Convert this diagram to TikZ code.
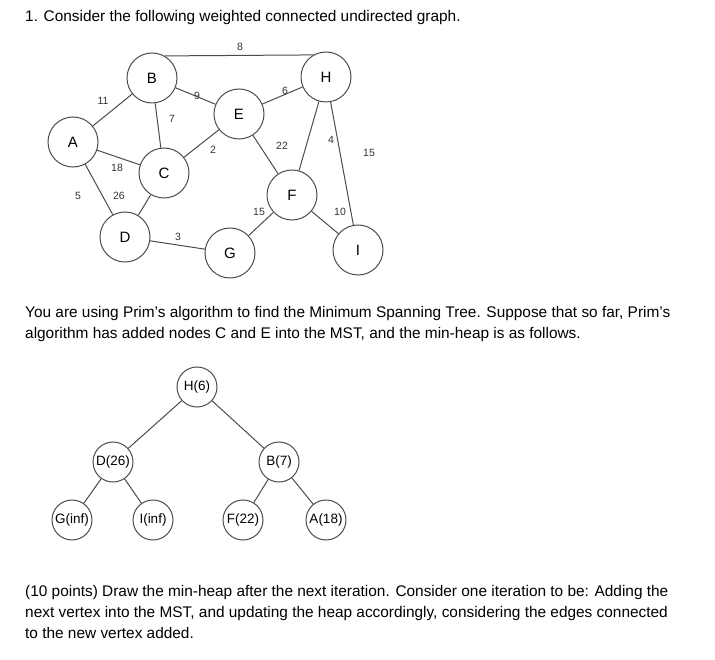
\documentclass[tikz,border=0pt]{standalone}
\usepackage{fontspec}
\setmainfont{Liberation Sans}
\begin{document}
\begin{tikzpicture}[x=1pt,y=-1pt,
  v/.style={circle,draw=black!70,line width=1pt,minimum size=50pt,inner sep=0pt,font=\fontsize{15}{15}\selectfont},
  h/.style={circle,draw=black!70,line width=1pt,minimum size=40pt,inner sep=0pt,font=\fontsize{13.5}{13.5}\selectfont},
  e/.style={draw=black!70,line width=1pt},
  w/.style={font=\fontsize{10.5}{10.5}\selectfont,text=black!80},
  t/.style={anchor=west,font=\fontsize{15.4}{21}\selectfont,align=left,inner sep=0pt}]
\useasboundingbox (0,0) rectangle (715,660);
\node[v] (B) at (152,78) {B};
\node[v] (H) at (326,77) {H};
\node[v] (E) at (239,114) {E};
\node[v] (A) at (73,142) {A};
\node[v] (C) at (164,173) {C};
\node[v] (F) at (292,195) {F};
\node[v] (D) at (125,237) {D};
\node[v] (G) at (230,253) {G};
\node[v] (I) at (358,250) {I};
\draw[e] (B.60) -- (H.120);
\draw[e] (A) -- (B); \draw[e] (B) -- (E); \draw[e] (B) -- (C);
\draw[e] (E) -- (H); \draw[e] (C) -- (E); \draw[e] (E) -- (F);
\draw[e] (H) -- (F); \draw[e] (H) -- (I); \draw[e] (A) -- (C);
\draw[e] (A) -- (D); \draw[e] (C) -- (D); \draw[e] (D) -- (G);
\draw[e] (G) -- (F); \draw[e] (F) -- (I);
\node[w] (w8) at (240,47) {8};
\node[w] (w11) at (103,101) {11};
\node[w] (w9) at (197,96) {9};
\node[w] (w7) at (172,119) {7};
\node[w] (w6) at (285,91) {6};
\node[w] (w2) at (213,150) {2};
\node[w] (w22) at (282,146) {22};
\node[w] (w4) at (331,140) {4};
\node[w] (w15a) at (369,153) {15};
\node[w] (w18) at (117,168) {18};
\node[w] (w26) at (119,196) {26};
\node[w] (w5) at (78,196) {5};
\node[w] (w15b) at (259,212) {15};
\node[w] (w10) at (340,212) {10};
\node[w] (w3) at (178,237) {3};
\node[t] (title) at (25,18) {1. Consider the following weighted connected undirected graph.};
\node[t] (p1) at (25,324) {You are using Prim's algorithm to find the Minimum Spanning Tree. Suppose that so far, Prim's\\algorithm has added nodes C and E into the MST, and the min-heap is as follows.};
\node[t] (p2) at (25,612) {(10 points) Draw the min-heap after the next iteration. Consider one iteration to be: Adding the\\next vertex into the MST, and updating the heap accordingly, considering the edges connected\\to the new vertex added.};
\node[h] (h1) at (197,387) {H(6)};
\node[h] (h2) at (113,462) {D(26)};
\node[h] (h3) at (279,462) {B(7)};
\node[h] (h4) at (72,520) {G(inf)};
\node[h] (h5) at (153,520) {I(inf)};
\node[h] (h6) at (243,520) {F(22)};
\node[h] (h7) at (326,520) {A(18)};
\draw[e] (h1) -- (h2); \draw[e] (h1) -- (h3);
\draw[e] (h2) -- (h4); \draw[e] (h2) -- (h5);
\draw[e] (h3) -- (h6); \draw[e] (h3) -- (h7);
\end{tikzpicture}
\end{document}
